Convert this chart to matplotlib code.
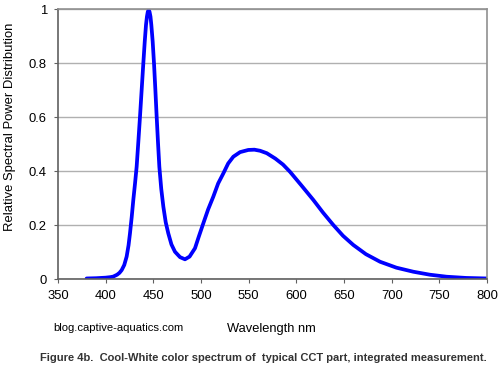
import numpy as np
import matplotlib
matplotlib.use("Agg")
import matplotlib.pyplot as plt

matplotlib.rcParams['font.family'] = ['Liberation Sans', 'DejaVu Sans']

# wavelength (nm) and relative power
wavelength = [380, 390, 400, 405, 408, 412, 414.5, 416.8, 419.5, 422, 424, 425.5,
              427.3, 429, 430.8, 432.5, 434.3, 436, 437.8, 439.5, 441, 442.3,
              443.3, 444.2, 445.1, 446, 447, 447.9, 449.3, 450.7, 452.1, 453.5,
              454.9, 456.3, 458.3, 460.5, 463, 465.7, 469, 472.7, 478, 483.2,
              488, 493.7, 497.5, 502.4, 507.5, 512.9, 518, 523.4, 528.5, 533.9,
              541, 549.6, 556, 562, 569, 578, 586, 593.4, 605, 617.8, 628, 638.8,
              649, 659.8, 673, 687.8, 705, 722.7, 740, 757.7, 778, 800]
power = [0.002, 0.003, 0.005, 0.007, 0.009, 0.016, 0.023, 0.033, 0.052, 0.083,
         0.125, 0.169, 0.229, 0.293, 0.354, 0.416, 0.51, 0.601, 0.703, 0.799,
         0.88, 0.941, 0.972, 0.99, 0.996, 0.99, 0.972, 0.941, 0.88, 0.799,
         0.703, 0.601, 0.505, 0.416, 0.334, 0.268, 0.21, 0.169, 0.128, 0.101,
         0.081, 0.073, 0.083, 0.114, 0.155, 0.206, 0.258, 0.305, 0.354, 0.391,
         0.428, 0.453, 0.47, 0.478, 0.479, 0.475, 0.466, 0.446, 0.424, 0.397,
         0.348, 0.293, 0.246, 0.2, 0.16, 0.126, 0.092, 0.064, 0.042, 0.027,
         0.016, 0.0085, 0.004, 0.002]

xticks = [350, 400, 450, 500, 550, 600, 650, 700, 750, 800]
yticks = [0, 0.2, 0.4, 0.6, 0.8, 1]
ytick_labels = ['0', '0.2', '0.4', '0.6', '0.8', '1']

fig = plt.figure(figsize=(5, 3.68), dpi=100)
ax = fig.add_axes([0.116, 0.2418, 0.858, 0.7337])

ax.plot(wavelength, power, color='#0000ff', lw=2.7, solid_capstyle='round',
        solid_joinstyle='round')

ax.set_xlim(350, 800)
ax.set_ylim(0, 1)
ax.set_xticks(xticks)
ax.set_yticks(yticks)
ax.set_yticklabels(ytick_labels)
ax.grid(axis='y', color='#b0b0b0', lw=1)
ax.set_axisbelow(True)
for side in ['top', 'right']:
    ax.spines[side].set_color('#909090')
for side in ['left', 'bottom']:
    ax.spines[side].set_color('#606060')
for sp in ax.spines.values():
    sp.set_linewidth(1.2)
ax.tick_params(axis='both', labelsize=9.4, length=3, color='#606060', pad=5)

ax.set_ylabel('Relative Spectral Power Distribution', fontsize=9.4)
ax.yaxis.set_label_coords(-0.097, 0.563)
fig.text(0.542, 0.105, 'Wavelength nm', ha='center', va='center', fontsize=9.3)
fig.text(0.106, 0.108, 'blog.captive-aquatics.com', ha='left', va='center',
         fontsize=8.1)
fig.text(0.08, 0.027, 'Figure 4b.  Cool-White color spectrum of  typical CCT part, integrated measurement.',
         ha='left', va='center', fontsize=8.0, fontweight='bold', color='#333333')

fig.savefig('out.png', dpi=100)
